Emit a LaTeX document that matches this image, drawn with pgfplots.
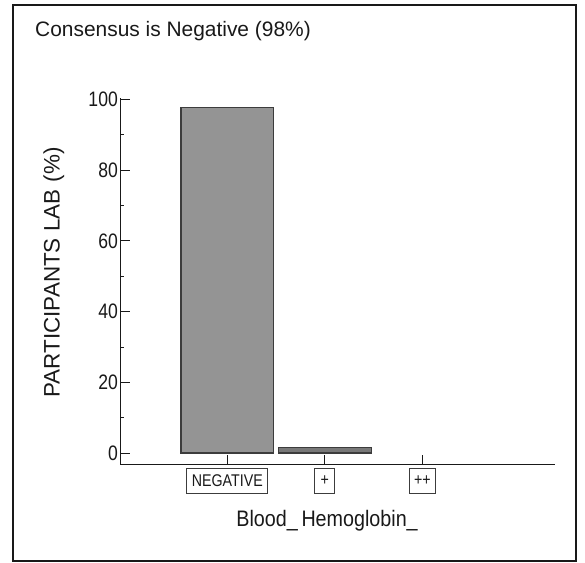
\documentclass[border=0pt]{standalone}
\usepackage{fontspec}
\setmainfont{Liberation Sans}
\newfontfamily\condfont[FakeStretch=0.84]{Liberation Sans}
\newfontfamily\labfont[FakeStretch=0.88]{Liberation Sans}
\usepackage{pgfplots}
\pgfplotsset{compat=1.18}
\definecolor{barA}{RGB}{148,148,148}
\definecolor{barB}{RGB}{120,120,120}
\definecolor{edge}{RGB}{60,60,60}
\definecolor{txt}{RGB}{25,25,25}
\begin{document}
\begin{tikzpicture}[x=1bp,y=1bp]
\useasboundingbox (0,0) rectangle (585,563);
\draw[line width=1.4bp,txt] (13,2) rectangle (576,558);
\node[anchor=base west,inner sep=0pt,text=txt,font=\fontsize{21}{24}\selectfont] at (35,526) {Consensus is Negative (98\%)};
\begin{axis}[
  at={(120bp,98bp)}, anchor=south west,
  width=435bp, height=367bp, scale only axis,
  xmin=-1.1, xmax=3.36, ymin=-3.4, ymax=100.4,
  axis x line=bottom, axis y line=left,
  axis line style={-, line width=1bp, txt},
  tick align=inside,
  major tick length=10bp, minor tick length=4bp,
  tick style={line width=0.8bp, txt},
  x tick style={yshift=10bp},
  ytick={0,20,40,60,80,100}, minor y tick num=1,
  xtick={0,1,2}, xticklabels={NEGATIVE,+,++},
  /pgf/number format/assume math mode=true,
  yticklabel style={font=\condfont\fontsize{21}{24}\selectfont, text=txt, inner sep=2bp},
  xticklabel style={draw=edge, line width=0.8bp, font=\condfont\fontsize{17}{20}\selectfont, text=txt, inner xsep=5bp, inner ysep=3bp, yshift=7bp, minimum height=25bp, minimum width=20bp},
  ylabel={PARTICIPANTS LAB\,\,(\%)},
  ylabel style={at={(axis description cs:-0.152,0.525)}, anchor=center, font=\fontsize{22.5}{26}\selectfont, text=txt},
  xlabel={Blood\_\,Hemoglobin\_},
  xlabel style={at={(axis description cs:0.476,-0.153)}, anchor=center, font=\labfont\fontsize{22.5}{26}\selectfont, text=txt},
  ybar, bar width=0.95, bar shift=0pt,
]
\addplot[fill=barA, draw=edge, line width=1.2bp] coordinates {(0,97.8)};
\addplot[fill=barB, draw=edge, line width=1.2bp] coordinates {(1,1.6)};
\end{axis}
\end{tikzpicture}
\end{document}
